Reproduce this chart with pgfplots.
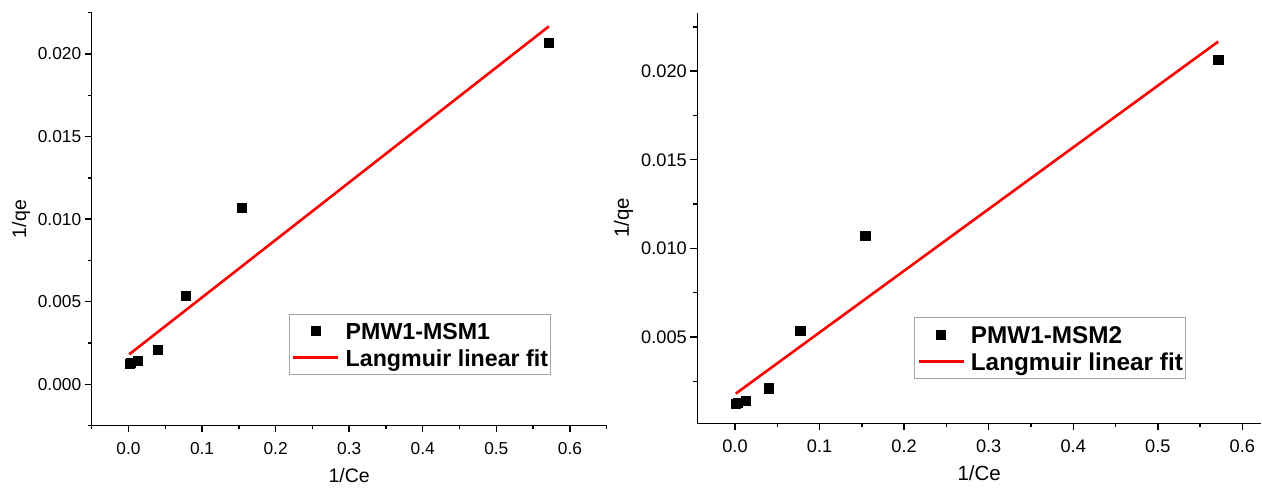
\documentclass[border=0pt]{standalone}
\usepackage{fontspec}
\setmainfont{Liberation Sans}
\usepackage{pgfplots}
\pgfplotsset{compat=1.18}

% Langmuir linearisation: 1/qe against 1/Ce
\pgfplotstableread{
x        y
0.0010   0.00122
0.0033   0.00128
0.0125   0.00140
0.0400   0.00211
0.0772   0.00535
0.1538   0.01070
0.5714   0.02066
}\isotherm

\pgfplotsset{
  langmuir/.style={
    scale only axis,
    axis lines*=left,
    axis line style={line width=1.4pt, black},
    tick align=outside,
    major tick length=7pt,
    minor tick length=4pt,
    every tick/.style={black, line width=1.4pt},
    scaled ticks=false,
    clip=false,
    /pgf/number format/assume math mode=true,
    xtick={0,0.1,0.2,0.3,0.4,0.5,0.6},
    xticklabel style={yshift=-6pt, /pgf/number format/.cd, fixed, fixed zerofill, precision=1},
    yticklabel style={/pgf/number format/.cd, fixed, fixed zerofill, precision=3},
    legend cell align=left,
    legend style={
      anchor=north west,
      draw=black!35, line width=0.8pt,
      inner xsep=2.4pt, inner ysep=3pt,
      row sep=-1.9pt,
      nodes={inner sep=0pt, text height=23pt, text depth=5.3pt},
      /tikz/every odd column/.append style={column sep=6pt},
    },
  },
  pts/.style={only marks, mark=square*, mark options={black, fill=black},
    legend image code/.code={\draw[mark repeat=2,mark phase=2,##1]
      plot coordinates {(0pt,0pt) (22.5pt,0pt) (45pt,0pt)};}},
  fit/.style={red, line width=2.6pt, no marks,
    legend image code/.code={\draw[##1] plot coordinates {(0pt,0pt) (45pt,0pt)};}},
}

\begin{document}
\begin{tikzpicture}
\path[use as bounding box] (0pt,0pt) rectangle (1262pt,489pt);

% first sample
\begin{axis}[langmuir,
  at={(91.7pt,63.5pt)}, anchor=south west,
  width=515pt, height=412.8pt,
  xmin=-0.05, xmax=0.65, ymin=-0.0025, ymax=0.0225,
  ytick={0,0.005,0.01,0.015,0.02},
  minor xtick={-0.05,0.05,0.15,0.25,0.35,0.45,0.55,0.65},
  minor ytick={-0.0025,0.0025,0.0075,0.0125,0.0175,0.0225},
  ticklabel style={font=\fontsize{17.3}{20}\selectfont},
  label style={font=\fontsize{19.5}{23}\selectfont},
  xlabel={1/Ce}, ylabel={1/qe},
  x label style={at={(axis description cs:0.5,-0.121)}, anchor=center},
  y label style={at={(axis description cs:-0.137,0.5)}, anchor=center},
  legend style={at={(0.3837,0.2712)}, font=\bfseries\fontsize{23.2}{27}\selectfont},
]
\addplot[pts, mark size=4.5pt] table[x=x, y=y] {\isotherm};
\addlegendentry{PMW1-MSM1}
\addplot[fit] coordinates {(0.001,0.00181) (0.5714,0.02167)};
\addlegendentry{Langmuir linear fit}
\end{axis}

% second sample
\begin{axis}[langmuir,
  at={(697.3pt,65.7pt)}, anchor=south west,
  width=563.7pt, height=410.6pt,
  xmin=-0.0446, xmax=0.622, ymin=0.00013, ymax=0.0233,
  ytick={0.005,0.01,0.015,0.02},
  minor xtick={0.05,0.15,0.25,0.35,0.45,0.55},
  minor ytick={0.0025,0.0075,0.0125,0.0175,0.0225},
  ticklabel style={font=\fontsize{18.2}{21}\selectfont},
  label style={font=\fontsize{20.5}{24}\selectfont},
  xlabel={1/Ce}, ylabel={1/qe},
  x label style={at={(axis description cs:0.5,-0.122)}, anchor=center},
  y label style={at={(axis description cs:-0.131,0.5)}, anchor=center},
  legend style={at={(0.3853,0.2582)}, font=\bfseries\fontsize{24.3}{28}\selectfont},
]
\addplot[pts, mark size=4.7pt] table[x=x, y=y] {\isotherm};
\addlegendentry{PMW1-MSM2}
\addplot[fit] coordinates {(0.001,0.00181) (0.5714,0.02167)};
\addlegendentry{Langmuir linear fit}
\end{axis}
\end{tikzpicture}
\end{document}
